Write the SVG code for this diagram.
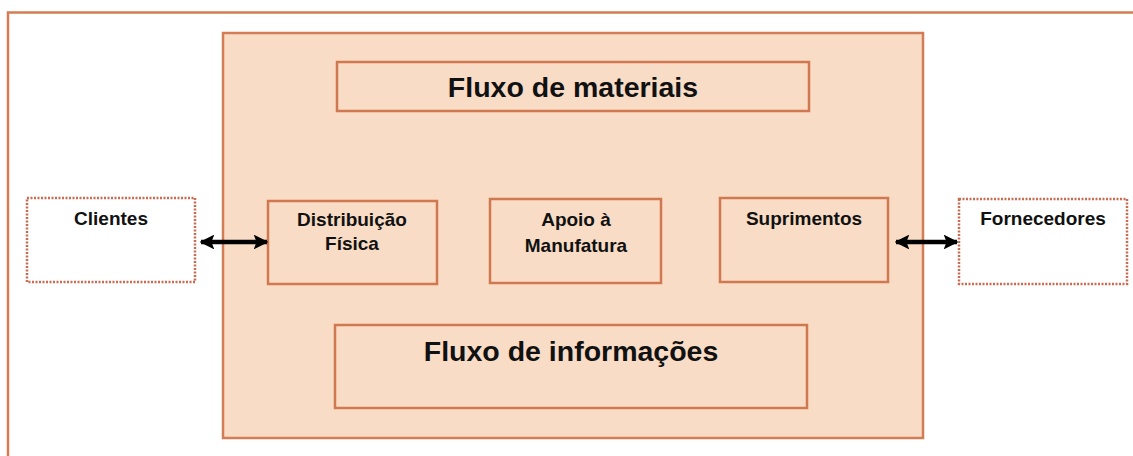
<svg xmlns="http://www.w3.org/2000/svg" width="1133" height="456" viewBox="0 0 1133 456">
<style>
.frame{fill:#ffffff;stroke:#d27d55;stroke-width:2.5}
.big{fill:#f8dcc6;stroke:#d27d55;stroke-width:2.5}
.box{fill:#f8dcc6;stroke:#d0784f;stroke-width:2.5}
.ext{fill:#ffffff;stroke:#cc6a52;stroke-width:2.5;stroke-dasharray:2 1.5}
.t{font-family:"Liberation Sans",Arial,sans-serif;font-weight:bold;fill:#111111;text-anchor:middle}
.s{font-size:19px}
.l{font-size:28.5px}
.conn{stroke:#000000;stroke-width:4.5;fill:none;marker-start:url(#ah);marker-end:url(#ah)}
</style>
<defs>
<marker id="ah" viewBox="0 0 10 10" refX="9" refY="5" markerWidth="3.3" markerHeight="3.3" orient="auto-start-reverse" markerUnits="strokeWidth">
<path d="M0,0 L10,5 L0,10 L2,5 Z" fill="#000000"/>
</marker>
</defs>
<rect class="frame" x="8" y="12.5" width="1200" height="500"/>
<g id="sistema">
<rect class="big" x="223" y="33" width="700" height="405"/>
</g>
<g id="fluxo-materiais">
<rect class="box" x="337" y="62" width="472" height="49"/>
<text class="t l" x="573" y="97">Fluxo de materiais</text>
</g>
<g id="distribuicao">
<rect class="box" x="268" y="201" width="169" height="83"/>
<text class="t s" x="352" y="226">Distribuição</text>
<text class="t s" x="352" y="250">Física</text>
</g>
<g id="apoio">
<rect class="box" x="490" y="199" width="171" height="84"/>
<text class="t s" x="576" y="226">Apoio à</text>
<text class="t s" x="576" y="252">Manufatura</text>
</g>
<g id="suprimentos">
<rect class="box" x="720" y="198" width="168" height="84"/>
<text class="t s" x="804" y="225">Suprimentos</text>
</g>
<g id="fluxo-informacoes">
<rect class="box" x="335" y="325" width="472" height="83"/>
<text class="t l" x="571" y="361">Fluxo de informações</text>
</g>
<g id="clientes">
<rect class="ext" x="27" y="198" width="168" height="84"/>
<text class="t s" x="111" y="225">Clientes</text>
</g>
<g id="fornecedores">
<rect class="ext" x="959" y="199" width="168" height="85"/>
<text class="t s" x="1043" y="225">Fornecedores</text>
</g>
<g id="connectors">
<line class="conn" x1="201" y1="242" x2="267" y2="242"/>
<line class="conn" x1="896" y1="242" x2="957" y2="242"/>
</g>
</svg>
